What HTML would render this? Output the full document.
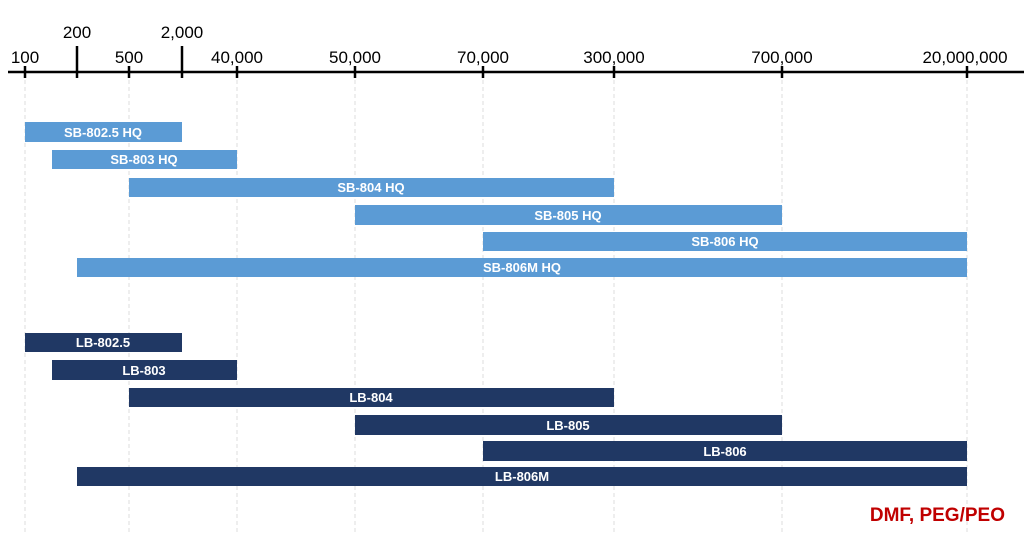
<!DOCTYPE html>
<html><head><meta charset="utf-8"><style>
body{margin:0;background:#fff;}
svg text{font-family:"Liberation Sans","Noto Sans CJK KR",sans-serif;}
</style></head><body>
<svg width="1024" height="534" xmlns="http://www.w3.org/2000/svg">
<g stroke="#dcdcdc" stroke-dasharray="4,3" stroke-width="1">
<line x1="25" y1="80" x2="25" y2="534"/>
<line x1="129" y1="80" x2="129" y2="534"/>
<line x1="237" y1="80" x2="237" y2="534"/><line x1="355" y1="80" x2="355" y2="534"/>
<line x1="483" y1="80" x2="483" y2="534"/><line x1="614" y1="80" x2="614" y2="534"/>
<line x1="782" y1="80" x2="782" y2="534"/><line x1="967" y1="80" x2="967" y2="534"/>
</g>
<line x1="8" y1="72" x2="1024" y2="72" stroke="#000" stroke-width="2.5"/>
<g stroke="#000" stroke-width="2.5">
<line x1="25" y1="66" x2="25" y2="78"/><line x1="129" y1="66" x2="129" y2="78"/>
<line x1="237" y1="66" x2="237" y2="78"/><line x1="355" y1="66" x2="355" y2="78"/>
<line x1="483" y1="66" x2="483" y2="78"/><line x1="614" y1="66" x2="614" y2="78"/>
<line x1="782" y1="66" x2="782" y2="78"/><line x1="967" y1="66" x2="967" y2="78"/>
<line x1="77" y1="46" x2="77" y2="78"/><line x1="182" y1="46" x2="182" y2="78"/>
</g>
<g font-size="17" text-anchor="middle" fill="#000">
<text x="25" y="63">100</text><text x="129" y="63">500</text><text x="237" y="63">40,000</text>
<text x="355" y="63">50,000</text><text x="483" y="63">70,000</text><text x="614" y="63">300,000</text>
<text x="782" y="63">700,000</text><text x="965" y="63">20,000,000</text>
<text x="77" y="38">200</text><text x="182" y="38">2,000</text>
</g>
<g fill="#5b9bd5">
<rect x="25" y="122" width="157" height="20"/><rect x="52" y="150" width="185" height="19"/>
<rect x="129" y="178" width="485" height="19"/><rect x="355" y="205" width="427" height="20"/>
<rect x="483" y="232" width="484" height="19"/><rect x="77" y="258" width="890" height="19"/>
</g>
<g fill="#203864">
<rect x="25" y="333" width="157" height="19"/><rect x="52" y="360" width="185" height="20"/>
<rect x="129" y="388" width="485" height="19"/><rect x="355" y="415" width="427" height="20"/>
<rect x="483" y="441" width="484" height="20"/><rect x="77" y="467" width="890" height="19"/>
</g>
<g font-size="13" font-weight="bold" fill="#fff" text-anchor="middle">
<text x="103" y="137">SB-802.5 HQ</text><text x="144" y="164">SB-803 HQ</text>
<text x="371" y="192">SB-804 HQ</text><text x="568" y="220">SB-805 HQ</text>
<text x="725" y="246">SB-806 HQ</text><text x="522" y="272">SB-806M HQ</text>
<text x="103" y="347">LB-802.5</text><text x="144" y="375">LB-803</text>
<text x="371" y="402">LB-804</text><text x="568" y="430">LB-805</text>
<text x="725" y="456">LB-806</text><text x="522" y="481">LB-806M</text>
</g>
<text x="1005" y="521" font-size="19" font-weight="bold" fill="#c00000" text-anchor="end">DMF, PEG/PEO</text>
</svg>
</body></html>
